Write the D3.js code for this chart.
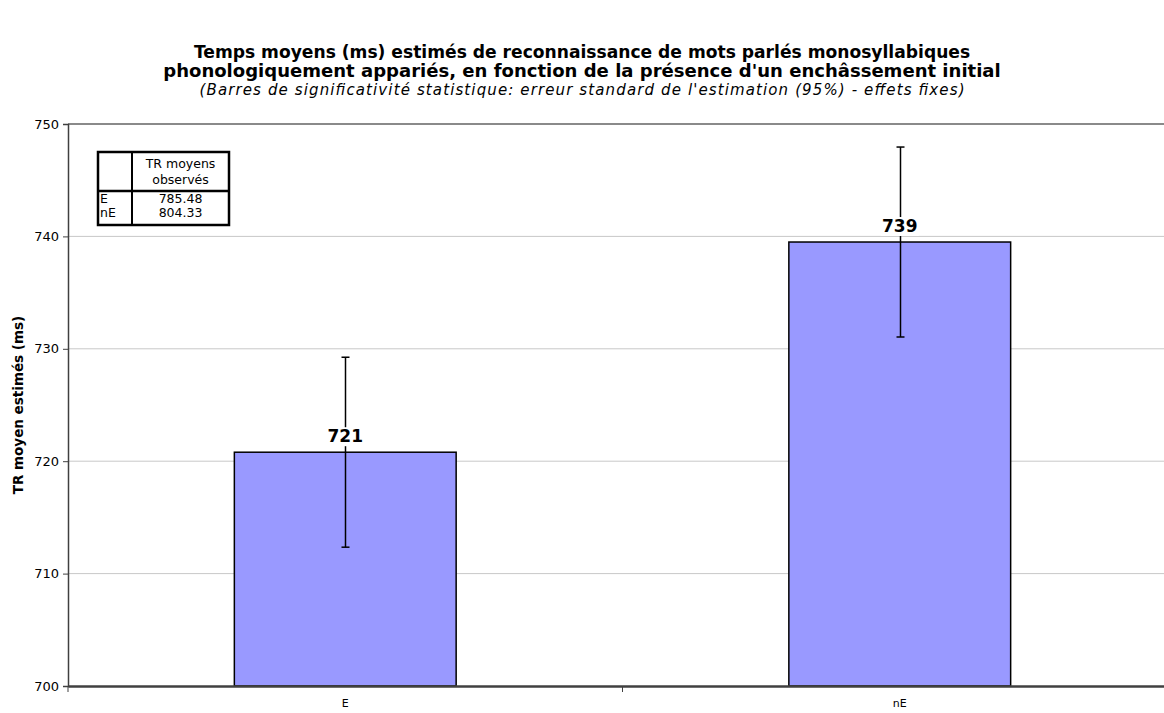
<!DOCTYPE html>
<html>
<head>
<meta charset="utf-8">
<script src="https://cdn.jsdelivr.net/npm/d3@7"></script>
<style>
  body { margin: 0; background: #fff; }
  svg { display: block; font-family: "DejaVu Sans", Verdana, sans-serif; }
</style>
</head>
<body>
<svg id="chart" width="1164" height="713"></svg>
<script>
// chart data
const categories = ["E", "nE"];
const estimates = [720.8, 739.5];
const labels = ["721", "739"];
const errHalf = [8.45, 8.45];
const yTicks = [700, 710, 720, 730, 740, 750];
const observed = [["E", "785.48"], ["nE", "804.33"]];

const svg = d3.select("#chart");
const pLeft = 68, pRight = 1177, pTop = 124, pBottom = 686;

const x = d3.scaleBand().domain(categories).range([pLeft, pRight]).paddingInner(0.6).paddingOuter(0.3);
const xb = d3.scaleBand().domain(categories).range([pLeft, pRight]);
const y = d3.scaleLinear().domain([700, 750]).range([pBottom, pTop]);

// title, each line sized to the width it has in the original
const titleLines = [
  {t: "Temps moyens (ms) estimés de reconnaissance de mots parlés monosyllabiques", y: 58, w: 777, bold: true},
  {t: "phonologiquement appariés, en fonction de la présence d'un enchâssement initial", y: 77, w: 838, bold: true},
  {t: "(Barres de significativité statistique: erreur standard de l'estimation (95%) - effets fixes)", y: 95, w: 765, bold: false}
];
const title = svg.append("g").attr("text-anchor", "middle");
titleLines.forEach(l => {
  const t = title.append("text").attr("x", 582).attr("y", l.y)
    .attr("font-size", 16)
    .attr("font-weight", l.bold ? "bold" : null)
    .attr("font-style", l.bold ? null : "italic")
    .text(l.t);
  let fs = 16 * l.w / t.node().getComputedTextLength();
  if (!l.bold) fs = Math.min(fs, 15);
  t.attr("font-size", fs);
  if (!l.bold) t.attr("textLength", l.w).attr("lengthAdjust", "spacing");
});

// gridlines
svg.append("g").selectAll("line").data(yTicks.filter(d => d > 700 && d < 750)).enter()
  .append("line")
  .attr("x1", pLeft).attr("x2", pRight)
  .attr("y1", d => y(d)).attr("y2", d => y(d))
  .attr("stroke", "#c8c8c8").attr("stroke-width", 1);
svg.append("line").attr("x1", pLeft).attr("x2", pRight)
  .attr("y1", y(750)).attr("y2", y(750))
  .attr("stroke", "#8a8a8a").attr("stroke-width", 2);

// bars
svg.append("g").selectAll("rect").data(categories).enter()
  .append("rect")
  .attr("x", d => x(d)).attr("width", x.bandwidth())
  .attr("y", (d, i) => y(estimates[i]))
  .attr("height", (d, i) => y(700) - y(estimates[i]))
  .attr("fill", "#9999ff").attr("stroke", "#000").attr("stroke-width", 1.5);

// error bars
const eb = svg.append("g").attr("stroke", "#000").attr("stroke-width", 1.5);
categories.forEach((c, i) => {
  const cx = Math.round(x(c) + x.bandwidth() / 2) + 0.5;
  eb.append("line").attr("x1", cx).attr("x2", cx)
    .attr("y1", y(estimates[i] + errHalf[i])).attr("y2", y(estimates[i] - errHalf[i]));
  [estimates[i] + errHalf[i], estimates[i] - errHalf[i]].forEach(v => {
    eb.append("line").attr("x1", cx - 4).attr("x2", cx + 4)
      .attr("y1", y(v)).attr("y2", y(v));
  });
});

// value labels
const vl = svg.append("g");
categories.forEach((c, i) => {
  const cx = x(c) + x.bandwidth() / 2;
  const yy = y(estimates[i]) - 10;
  vl.append("rect").attr("x", cx - 19).attr("y", yy - 15).attr("width", 38).attr("height", 19).attr("fill", "#fff");
  vl.append("text").attr("x", cx).attr("y", yy)
    .attr("text-anchor", "middle").attr("font-size", 17).attr("font-weight", "bold")
    .text(labels[i]);
});

// y axis
const yAxis = svg.append("g").attr("transform", `translate(${pLeft},0)`)
  .call(d3.axisLeft(y).tickValues(yTicks).tickSize(5).tickPadding(4).tickFormat(d3.format("d")));
yAxis.select(".domain").attr("stroke", "#404040").attr("stroke-width", 1.5);
yAxis.selectAll(".tick line").attr("stroke", "#404040");
yAxis.selectAll(".tick text").attr("font-size", 13).attr("fill", "#000")
  .attr("font-family", "DejaVu Sans, Verdana, sans-serif");

// x axis
const xAxis = svg.append("g").attr("transform", `translate(0,${pBottom})`)
  .call(d3.axisBottom(xb).tickSize(0).tickPadding(13));
xAxis.select(".domain").attr("stroke", "#404040").attr("stroke-width", 2.5);
xAxis.selectAll(".tick text").attr("font-size", 11).attr("fill", "#000")
  .attr("font-family", "DejaVu Sans, Verdana, sans-serif");
// category separator ticks
[xb("nE"), pLeft].forEach(tx => {
  svg.append("line").attr("x1", tx).attr("x2", tx)
    .attr("y1", pBottom).attr("y2", pBottom + 6).attr("stroke", "#404040");
});

// y axis title
svg.append("text")
  .attr("transform", `translate(23,${(pTop + pBottom) / 2}) rotate(-90)`)
  .attr("text-anchor", "middle").attr("font-size", 13.5).attr("font-weight", "bold")
  .text("TR moyen estimés (ms)");

// observed means table
const tb = svg.append("g").attr("font-size", 12.5);
const tx = 98, ty = 152, tw = 131, th = 73, c1 = 34, hh = 39;
tb.append("rect").attr("x", tx).attr("y", ty).attr("width", tw).attr("height", th)
  .attr("fill", "#fff").attr("stroke", "#000").attr("stroke-width", 2.5);
tb.append("line").attr("x1", tx + c1).attr("x2", tx + c1).attr("y1", ty).attr("y2", ty + th)
  .attr("stroke", "#000").attr("stroke-width", 2);
tb.append("line").attr("x1", tx).attr("x2", tx + tw).attr("y1", ty + hh).attr("y2", ty + hh)
  .attr("stroke", "#000").attr("stroke-width", 2.5);
tb.append("text").attr("x", tx + c1 + (tw - c1) / 2).attr("y", ty + 16).attr("text-anchor", "middle").text("TR moyens");
tb.append("text").attr("x", tx + c1 + (tw - c1) / 2).attr("y", ty + 32).attr("text-anchor", "middle").text("observés");
observed.forEach((r, i) => {
  const ry = ty + hh + 12 + i * 14;
  tb.append("text").attr("x", tx + 2).attr("y", ry).text(r[0]);
  tb.append("text").attr("x", tx + c1 + (tw - c1) / 2).attr("y", ry).attr("text-anchor", "middle").text(r[1]);
});
</script>
</body>
</html>
